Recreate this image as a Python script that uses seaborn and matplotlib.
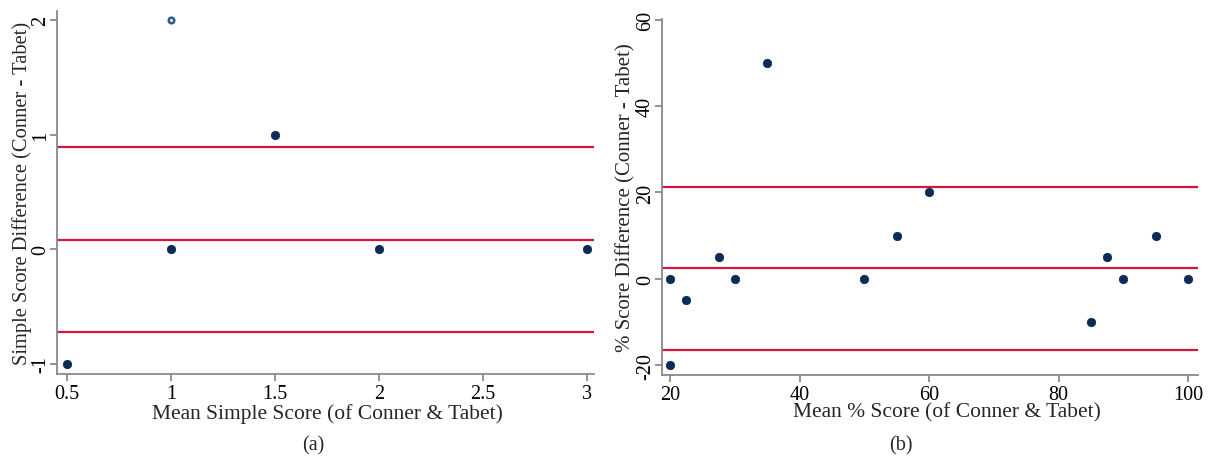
import matplotlib
matplotlib.use("Agg")
import matplotlib.pyplot as plt
import seaborn as sns
import pandas as pd

# panel (a): simple score
simple_mean = [0.5, 1, 1.5, 2, 3]
simple_diff = [-1, 0, 1, 0, 0]
simple_hollow_mean = [1]
simple_hollow_diff = [2]
simple_lines = [0.89, 0.085, -0.72]

# panel (b): % score
pct_mean = [20, 20, 22.5, 27.5, 30, 35, 50, 55, 60, 85, 87.5, 90, 95, 100]
pct_diff = [0, -20, -5, 5, 0, 50, 0, 10, 20, -10, 5, 0, 10, 0]
pct_lines = [21.3, 2.4, -16.6]

DOT = "#0b2d55"
RED = "#d4163f"
GREY = "#8a8a8a"

sns.set_theme(style="white")
plt.rcParams["font.family"] = ["Liberation Serif", "DejaVu Serif"]
plt.rcParams["axes.unicode_minus"] = False

fig = plt.figure(figsize=(12.16, 4.6), dpi=100)
ax1 = fig.add_axes([0.0469, 0.1848, 0.4416, 0.789])
ax2 = fig.add_axes([0.5444, 0.1826, 0.4408, 0.774])


def style_ax(ax, ylab_x, xlab_x, xlab_y):
    for s in ["top", "right"]:
        ax.spines[s].set_visible(False)
    for s in ["left", "bottom"]:
        ax.spines[s].set_color(GREY)
        ax.spines[s].set_linewidth(1.3)
    ax.tick_params(axis="both", colors=GREY, labelcolor="black", length=5, width=1.3,
                   labelsize=14.5, direction="out", left=True, bottom=True)
    ax.tick_params(axis="y", pad=0)
    ax.tick_params(axis="x", pad=2)
    for lab in ax.get_yticklabels():
        lab.set_rotation(90)
        lab.set_va("center")
    ax.yaxis.set_label_coords(ylab_x, 0.5)
    ax.yaxis.label.set_va("center")
    ax.xaxis.set_label_coords(xlab_x, xlab_y)
    ax.xaxis.label.set_va("center")


df_a = pd.DataFrame({"x": simple_mean, "y": simple_diff})
for v in simple_lines:
    ax1.axhline(v, color=RED, lw=1.6, zorder=1)
sns.scatterplot(data=df_a, x="x", y="y", ax=ax1, color=DOT, s=36, edgecolor=DOT,
                linewidth=0.6, zorder=3)
ax1.scatter(simple_hollow_mean, simple_hollow_diff, s=16, facecolors="white",
            edgecolors="#2a5a8c", linewidths=1.8, zorder=3)
ax1.set_xlim(0.452, 3.034)
ax1.set_ylim(-1.087, 2.078)
ax1.set_xticks([0.5, 1, 1.5, 2, 2.5, 3])
ax1.set_xticklabels(["0.5", "1", "1.5", "2", "2.5", "3"])
ax1.set_yticks([-1, 0, 1, 2])
ax1.set_yticklabels(["-1", "0", "1", "2"])
ax1.set_xlabel("Mean Simple Score (of Conner & Tabet)", fontsize=15.5)
ax1.set_ylabel("Simple Score Difference (Conner - Tabet)", fontsize=14.8)
style_ax(ax1, -0.066, 0.503, -0.107)

df_b = pd.DataFrame({"x": pct_mean, "y": pct_diff})
for v in pct_lines:
    ax2.axhline(v, color=RED, lw=1.6, zorder=1)
sns.scatterplot(data=df_b, x="x", y="y", ax=ax2, color=DOT, s=36, edgecolor=DOT,
                linewidth=0.6, zorder=3)
ax2.set_xlim(18.76, 101.54)
ax2.set_ylim(-22.3, 60.2)
ax2.set_xticks([20, 40, 60, 80, 100])
ax2.set_yticks([-20, 0, 20, 40, 60])
ax2.set_xlabel("Mean % Score (of Conner & Tabet)", fontsize=15.5)
ax2.set_ylabel("% Score Difference (Conner - Tabet)", fontsize=15)
style_ax(ax2, -0.068, 0.532, -0.104)

fig.text(313 / 1216, 1 - 446 / 460, "(a)", ha="center", va="center", fontsize=14.5)
fig.text(901 / 1216, 1 - 446 / 460, "(b)", ha="center", va="center", fontsize=14.5)

fig.savefig("out.png", dpi=100, facecolor="white")
